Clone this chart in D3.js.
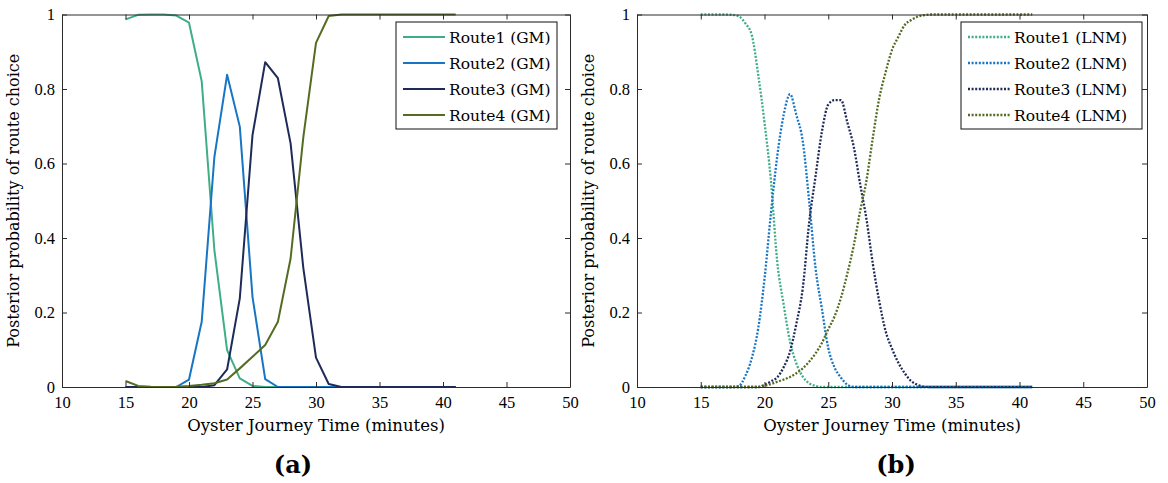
<!DOCTYPE html>
<html>
<head>
<meta charset="utf-8">
<script src="https://cdn.jsdelivr.net/npm/d3@7"></script>
<style>
  body { margin: 0; background: #fff; }
  svg { display: block; }
</style>
</head>
<body>
<svg id="chart" width="1168" height="483"></svg>
<script>
// ---- axis ticks ----
const xTickValues = [10, 15, 20, 25, 30, 35, 40, 45, 50];
const yTickValues = [0, 0.2, 0.4, 0.6, 0.8, 1];
const yTickLabels = ["0", "0.2", "0.4", "0.6", "0.8", "1"];

// ---- (a) Gaussian model, one value per minute ----
const gmTime = [15, 16, 17, 18, 19, 20, 21, 22, 23, 24, 25, 26, 27, 28, 29, 30, 31, 32, 33, 34, 35, 36, 37, 38, 39, 40, 41];
const gmRoute1 = [0.987, 0.999, 1, 1, 0.997, 0.978, 0.821, 0.367, 0.099, 0.023, 0.003, 0, 0, 0, 0, 0, 0, 0, 0, 0, 0, 0, 0, 0, 0, 0, 0];
const gmRoute2 = [0, 0, 0, 0, 0, 0.02, 0.175, 0.618, 0.838, 0.699, 0.242, 0.021, 0, 0, 0, 0, 0, 0, 0, 0, 0, 0, 0, 0, 0, 0, 0];
const gmRoute3 = [0, 0, 0, 0, 0, 0, 0, 0.005, 0.047, 0.238, 0.676, 0.872, 0.829, 0.654, 0.32, 0.079, 0.008, 0, 0, 0, 0, 0, 0, 0, 0, 0, 0];
const gmRoute4 = [0.016, 0.003, 0.001, 0, 0.001, 0.003, 0.006, 0.01, 0.02, 0.05, 0.081, 0.113, 0.175, 0.345, 0.67, 0.924, 0.996, 1, 1, 1, 1, 1, 1, 1, 1, 1, 1];

// ---- (b) log-normal model, every half minute ----
const lnmTime = [15, 15.5, 16, 16.5, 17, 17.5, 18, 18.5, 19, 19.5, 20, 20.5, 21, 21.5, 22, 22.5, 23, 23.5, 24, 24.5, 25, 25.5, 26, 26.5, 27, 27.5, 28, 28.5, 29, 29.5, 30, 30.5, 31, 31.5, 32, 32.5, 33, 33.5, 34, 34.5, 35, 35.5, 36, 36.5, 37, 37.5, 38, 38.5, 39, 39.5, 40, 40.5, 41];
const lnmRoute1 = [1, 1, 1, 1, 1, 0.999, 0.995, 0.976, 0.945, 0.84, 0.71, 0.555, 0.336, 0.222, 0.122, 0.063, 0.028, 0.01, 0.003, 0, 0, 0, 0, 0, 0, 0, 0, 0, 0, 0, 0, 0, 0, 0, 0, 0, 0, 0, 0, 0, 0, 0, 0, 0, 0, 0, 0, 0, 0, 0, 0, 0, 0];
const lnmRoute2 = [0, 0, 0, 0, 0, 0, 0.003, 0.03, 0.077, 0.156, 0.29, 0.465, 0.62, 0.73, 0.786, 0.73, 0.66, 0.5, 0.32, 0.21, 0.105, 0.052, 0.025, 0.006, 0, 0, 0, 0, 0, 0, 0, 0, 0, 0, 0, 0, 0, 0, 0, 0, 0, 0, 0, 0, 0, 0, 0, 0, 0, 0, 0, 0, 0];
const lnmRoute3 = [0, 0, 0, 0, 0, 0, 0, 0, 0, 0, 0.006, 0.015, 0.026, 0.053, 0.095, 0.17, 0.265, 0.44, 0.565, 0.685, 0.758, 0.77, 0.77, 0.71, 0.645, 0.545, 0.45, 0.33, 0.23, 0.15, 0.103, 0.065, 0.037, 0.016, 0.006, 0.001, 0, 0, 0, 0, 0, 0, 0, 0, 0, 0, 0, 0, 0, 0, 0, 0, 0];
const lnmRoute4 = [0, 0, 0, 0, 0, 0, 0, 0, 0, 0, 0.003, 0.008, 0.014, 0.02, 0.027, 0.037, 0.05, 0.068, 0.09, 0.118, 0.155, 0.19, 0.24, 0.305, 0.38, 0.472, 0.555, 0.67, 0.775, 0.845, 0.905, 0.94, 0.972, 0.985, 0.994, 0.998, 1, 1, 1, 1, 1, 1, 1, 1, 1, 1, 1, 1, 1, 1, 1, 1, 1];

const routeColors = ["#3fae86", "#1775c4", "#1e2b58", "#546c22"];

const svg = d3.select("#chart");
const TICK_FONT = "'Liberation Serif', 'Times New Roman', serif";
const LABEL_FONT = "'DejaVu Serif', serif";

function drawPanel(cfg) {
  const x = d3.scaleLinear().domain([10, 50]).range([cfg.left, cfg.right]);
  const y = d3.scaleLinear().domain([0, 1]).range([cfg.bottom, cfg.top]);
  const g = svg.append("g");

  // curves
  const line = d3.line()
    .x((d, i) => x(cfg.time[i]))
    .y(d => y(d))
    .curve(cfg.dotted ? d3.curveMonotoneX : d3.curveLinear);

  cfg.series.forEach((vals, k) => {
    g.append("path")
      .datum(vals)
      .attr("d", line)
      .attr("fill", "none")
      .attr("stroke", routeColors[k])
      .attr("stroke-width", cfg.dotted ? 2.3 : 2)
      .attr("stroke-dasharray", cfg.dotted ? "2,1.6" : null)
      .attr("stroke-linejoin", "round");
  });

  // axes with inward ticks on all four sides
  const axB = d3.axisBottom(x).tickValues(xTickValues).tickSizeInner(-5).tickSizeOuter(0).tickPadding(9);
  const axT = d3.axisTop(x).tickValues(xTickValues).tickSizeInner(-5).tickSizeOuter(0).tickFormat("");
  const axL = d3.axisLeft(y).tickValues(yTickValues).tickSizeInner(-5).tickSizeOuter(0).tickPadding(9)
    .tickFormat((d, i) => yTickLabels[i]);
  const axR = d3.axisRight(y).tickValues(yTickValues).tickSizeInner(-5).tickSizeOuter(0).tickFormat("");

  const gb = g.append("g").attr("transform", `translate(0,${cfg.bottom})`).call(axB);
  const gt = g.append("g").attr("transform", `translate(0,${cfg.top})`).call(axT);
  const gl = g.append("g").attr("transform", `translate(${cfg.left},0)`).call(axL);
  const gr = g.append("g").attr("transform", `translate(${cfg.right},0)`).call(axR);
  [gb, gt, gl, gr].forEach(a => {
    a.selectAll("path.domain").attr("stroke", "#2b2b2b").attr("stroke-width", 1);
    a.selectAll(".tick line").attr("stroke", "#2b2b2b");
    a.selectAll("text").attr("font-family", TICK_FONT).attr("font-size", 16.5).attr("fill", "#000");
  });
  gl.selectAll("text").attr("dx", 2);

  // axis titles
  g.append("text")
    .attr("x", (cfg.left + cfg.right) / 2).attr("y", 431)
    .attr("text-anchor", "middle")
    .attr("font-family", LABEL_FONT).attr("font-size", 16.5)
    .text("Oyster Journey Time (minutes)");
  g.append("text")
    .attr("transform", `translate(${cfg.left - 43},${(cfg.top + cfg.bottom) / 2}) rotate(-90)`)
    .attr("text-anchor", "middle")
    .attr("font-family", LABEL_FONT).attr("font-size", 16)
    .text("Posterior probability of route choice");
  g.append("text")
    .attr("x", cfg.tagX).attr("y", 473)
    .attr("text-anchor", "middle")
    .attr("font-family", LABEL_FONT).attr("font-weight", "bold").attr("font-size", 24)
    .text(cfg.tag);

  // legend
  const lg = g.append("g").attr("transform", `translate(${cfg.legendX},22)`);
  lg.append("rect")
    .attr("width", cfg.legendW).attr("height", 107)
    .attr("fill", "#fff").attr("stroke", "#111").attr("stroke-width", 1);
  cfg.names.forEach((name, k) => {
    const yy = 15 + k * 26;
    lg.append("line")
      .attr("x1", 7).attr("x2", 49).attr("y1", yy).attr("y2", yy)
      .attr("stroke", routeColors[k])
      .attr("stroke-width", cfg.dotted ? 2.3 : 2.2)
      .attr("stroke-dasharray", cfg.dotted ? "2,1.6" : null);
    lg.append("text")
      .attr("x", 53).attr("y", yy + 5.5)
      .attr("font-family", LABEL_FONT).attr("font-size", 15.5)
      .text(name);
  });
}

drawPanel({
  left: 62, right: 570, top: 14.5, bottom: 387,
  time: gmTime, series: [gmRoute1, gmRoute2, gmRoute3, gmRoute4],
  dotted: false, tag: "(a)", tagX: 293,
  legendX: 396, legendW: 161,
  names: ["Route1 (GM)", "Route2 (GM)", "Route3 (GM)", "Route4 (GM)"]
});

drawPanel({
  left: 637, right: 1147, top: 14.5, bottom: 387,
  time: lnmTime, series: [lnmRoute1, lnmRoute2, lnmRoute3, lnmRoute4],
  dotted: true, tag: "(b)", tagX: 896,
  legendX: 961, legendW: 181,
  names: ["Route1 (LNM)", "Route2 (LNM)", "Route3 (LNM)", "Route4 (LNM)"]
});
</script>
</body>
</html>
